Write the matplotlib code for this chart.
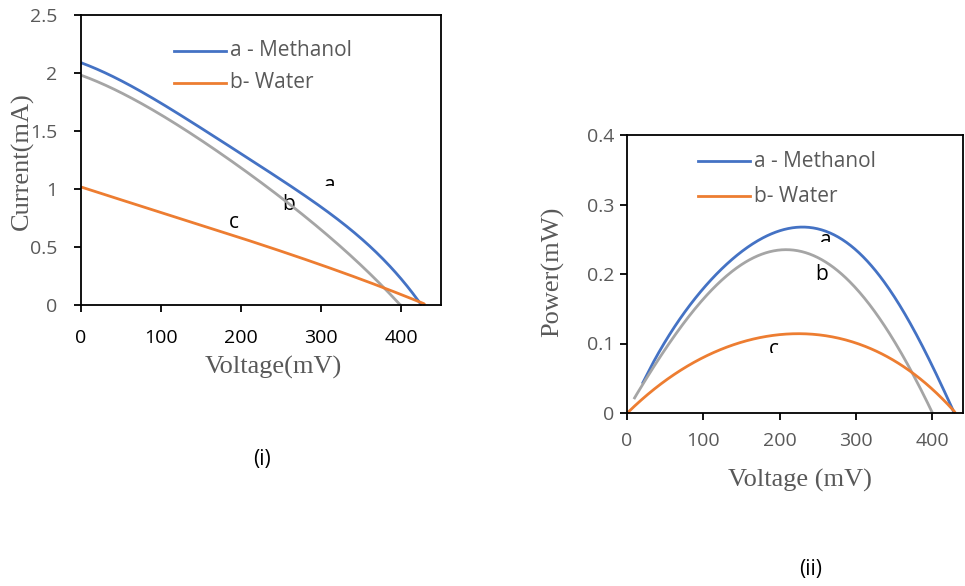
import numpy as np
import matplotlib
matplotlib.use("Agg")
import matplotlib.pyplot as plt
from matplotlib.lines import Line2D
from matplotlib.patches import Rectangle

# (i) current vs voltage
iv_v_a = [0, 50, 100, 150, 200, 250, 300, 350, 380, 400, 415, 426]
iv_i_a = [2.09, 1.93, 1.74, 1.535, 1.30, 1.07, 0.85, 0.59, 0.37, 0.215, 0.10, 0.0]
iv_v_b = [0, 50, 100, 150, 200, 250, 300, 350, 380, 400]
iv_i_b = [1.98, 1.83, 1.65, 1.41, 1.17, 0.95, 0.64, 0.345, 0.13, 0.0]
iv_v_c = [0, 50, 100, 150, 200, 250, 300, 367, 400, 430]
iv_i_c = [1.015, 0.91, 0.80, 0.69, 0.575, 0.46, 0.345, 0.18, 0.10, 0.0]

# (ii) power vs voltage
pv_v_a = [20, 50, 100, 150, 200, 235, 270, 300, 350, 400, 428]
pv_p_a = [0.042, 0.102, 0.181, 0.231, 0.260, 0.268, 0.262, 0.232, 0.164, 0.071, 0.0]
pv_v_b = [9, 50, 100, 150, 213, 250, 300, 350, 400]
pv_p_b = [0.02, 0.092, 0.164, 0.213, 0.2355, 0.224, 0.178, 0.104, 0.0]
pv_v_c = [0, 50, 100, 150, 200, 232, 300, 350, 400, 430]
pv_p_c = [0.0, 0.045, 0.081, 0.102, 0.113, 0.114, 0.0995, 0.0756, 0.035, 0.0]

legend_labels = ["a - Methanol", "b- Water"]
BLUE, ORANGE, GRAY = "#4472C4", "#ED7D31", "#A5A5A5"
TXT = "#595959"


def smooth(x, y, deg=4):
    # least squares trend through the read points, so the curve is smooth like Excel's
    coef = np.polyfit(x, y, deg)
    xs = np.linspace(x[0], x[-1], 300)
    ys = np.polyval(coef, xs)
    ys[0], ys[-1] = y[0], y[-1]
    return xs, ys


def style_axes(ax, xcolor):
    for s in ax.spines.values():
        s.set_linewidth(1.3)
        s.set_color("black")
    ax.tick_params(axis="both", direction="out", length=5, width=1.3, color="black")
    ax.tick_params(axis="x", labelcolor=xcolor, labelsize=14)
    ax.tick_params(axis="y", labelcolor=TXT, labelsize=14)
    for lab in ax.get_xticklabels() + ax.get_yticklabels():
        lab.set_fontfamily("Open Sans")


def add_legend(ax, x0, x1, y0, y1):
    for (y, c, lab) in ((y0, BLUE, legend_labels[0]), (y1, ORANGE, legend_labels[1])):
        ax.add_line(Line2D([x0, x1], [y, y], transform=ax.transAxes, color=c, lw=2))
        ax.text(x1 + 0.012, y, lab, transform=ax.transAxes, va="center", ha="left",
                color=TXT, fontsize=15, family="Open Sans")


def point_label(ax, x, y, s, cut_top=None):
    ax.text(x, y, s, ha="center", va="baseline", fontsize=15, family="Open Sans",
            color="black", zorder=1)
    if cut_top is not None:
        # the data label is cut off at the bottom in the reference
        h = cut_top - y
        ax.add_patch(Rectangle((x - 12, y - h), 24, 2 * h,
                               facecolor="white", edgecolor="none", zorder=1.5))


fig = plt.figure(figsize=(9.65, 5.86), dpi=100)

# ---- (i) ----
ax1 = fig.add_axes([81 / 965, 1 - 305 / 586, 360 / 965, 290 / 586])
for v, i, c, d in ((iv_v_a, iv_i_a, BLUE, 5), (iv_v_b, iv_i_b, GRAY, 4), (iv_v_c, iv_i_c, ORANGE, 3)):
    xs, ys = smooth(v, i, d)
    ax1.plot(xs, ys, color=c, lw=2, solid_capstyle="butt", clip_on=False, zorder=2)
ax1.set_xlim(0, 450)
ax1.set_ylim(0, 2.5)
ax1.set_xticks([0, 100, 200, 300, 400])
ax1.set_yticks([0, 0.5, 1, 1.5, 2, 2.5])
ax1.set_yticklabels(["0", "0.5", "1", "1.5", "2", "2.5"])
style_axes(ax1, "black")
ax1.tick_params(axis="x", pad=12)
ax1.tick_params(axis="y", pad=12)
add_legend(ax1, 0.258, 0.403, 0.876, 0.766)
point_label(ax1, 311, 0.985, "a", cut_top=1.03)
point_label(ax1, 260, 0.82, "b")
point_label(ax1, 191, 0.664, "c")
fig.text(22 / 965, 1 - 161 / 586, "Current(mA)", rotation=90, ha="center", va="center",
         fontsize=19, family="Liberation Serif", color=TXT)
fig.text(273 / 965, 1 - 367 / 586, "Voltage(mV)", ha="center", va="center",
         fontsize=19, family="Liberation Serif", color=TXT)
fig.text(262 / 965, 1 - 460 / 586, "(i)", ha="center", va="center", fontsize=15,
         family="Open Sans", color="black")

# ---- (ii) ----
ax2 = fig.add_axes([627 / 965, 1 - 413 / 586, 336 / 965, 278 / 586])
for v, p, c, d in ((pv_v_a, pv_p_a, BLUE, 5), (pv_v_b, pv_p_b, GRAY, 5), (pv_v_c, pv_p_c, ORANGE, 4)):
    xs, ys = smooth(v, p, d)
    ax2.plot(xs, ys, color=c, lw=2, solid_capstyle="butt", clip_on=False, zorder=2)
ax2.set_xlim(0, 440)
ax2.set_ylim(0, 0.4)
ax2.set_xticks([0, 100, 200, 300, 400])
ax2.set_yticks([0, 0.1, 0.2, 0.3, 0.4])
ax2.set_yticklabels(["0", "0.1", "0.2", "0.3", "0.4"])
style_axes(ax2, TXT)
ax2.tick_params(axis="x", pad=9)
ax2.tick_params(axis="y", pad=4)
add_legend(ax2, 0.212, 0.367, 0.906, 0.78)
point_label(ax2, 261, 0.240, "a", cut_top=0.246)
point_label(ax2, 255, 0.191, "b")
point_label(ax2, 192, 0.083, "c", cut_top=0.0865)
fig.text(553 / 965, 1 - 272 / 586, "Power(mW)", rotation=90, ha="center", va="center",
         fontsize=19, family="Liberation Serif", color=TXT)
fig.text(800 / 965, 1 - 480 / 586, "Voltage (mV)", ha="center", va="center",
         fontsize=19, family="Liberation Serif", color=TXT)
fig.text(811 / 965, 1 - 570 / 586, "(ii)", ha="center", va="center", fontsize=15,
         family="Open Sans", color="black")

fig.savefig("out.png", dpi=100)
